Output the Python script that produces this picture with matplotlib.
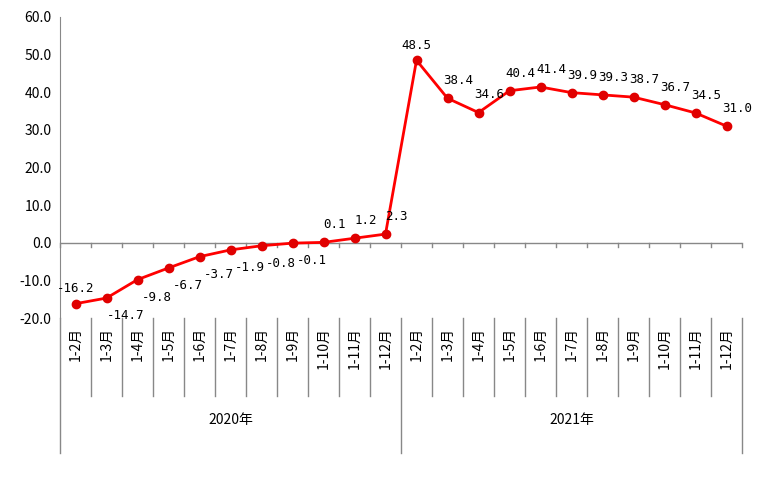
import matplotlib.pyplot as plt
import numpy as np

plt.rcParams['font.family'] = 'sans-serif'
plt.rcParams['font.sans-serif'] = ['Noto Sans CJK SC', 'Noto Sans CJK JP',
                                   'Noto Sans CJK TC', 'DejaVu Sans']

months = ['1-2月', '1-3月', '1-4月', '1-5月', '1-6月', '1-7月', '1-8月',
          '1-9月', '1-10月', '1-11月', '1-12月']
years = ['2020年', '2021年']
values = [-16.2, -14.7, -9.8, -6.7, -3.7, -1.9, -0.8, -0.1, 0.1, 1.2, 2.3,
          48.5, 38.4, 34.6, 40.4, 41.4, 39.9, 39.3, 38.7, 36.7, 34.5, 31.0]

labels = months * len(years)
n = len(values)
x = np.arange(n)

fig = plt.figure(figsize=(7.65, 4.94), dpi=100)
ax = fig.add_axes([60/765, 1-318/494, 682/765, 301/494])

ax.plot(x, values, color='#ff0000', lw=2, marker='o', ms=6,
        mfc='#e00000', mec='#e00000', zorder=3)

for i, v in enumerate(values):
    if v < 0 and i > 0:
        off, va = (14, -8), 'top'
    elif i in (0, 11):
        off, va = (0, 6), 'bottom'
    else:
        off, va = (8, 8), 'bottom'
    ax.annotate(f'{v:.1f}', (i, v), xytext=off, textcoords='offset points',
                ha='center', va=va, fontsize=9, family='DejaVu Sans Mono')

ax.set_xlim(-0.5, n - 0.5)
ax.set_ylim(-20, 60)
ax.set_yticks(np.arange(-20, 61, 10))
ax.set_yticklabels([f'{t:.1f}' for t in np.arange(-20, 61, 10)], fontsize=10)
ax.tick_params(axis='y', length=0, pad=6)
ax.set_xticks([])
for s in ['top', 'right', 'bottom']:
    ax.spines[s].set_visible(False)
ax.spines['left'].set_color('#888888')

# zero line with category ticks
ax.axhline(0, color='#888888', lw=1, zorder=1)
for b in np.arange(-0.5, n, 1):
    ax.plot([b, b], [0, -1.2], color='#888888', lw=1, clip_on=False)

# category label table below the axes
tr = ax.get_xaxis_transform()
for i, lab in enumerate(labels):
    ax.text(i, -0.03, lab, transform=tr, rotation=90, ha='center', va='top',
            fontsize=10)
for b in np.arange(-0.5, n, 1):
    bottom = -0.45 if b in (-0.5, 10.5, n - 0.5) else -0.26
    ax.plot([b, b], [0, bottom], color='#888888', lw=1, transform=tr, clip_on=False)
for j, yr in enumerate(years):
    ax.text(j * 11 + 5, -0.34, yr, transform=tr, ha='center', va='center', fontsize=10)

fig.savefig('out.png')
